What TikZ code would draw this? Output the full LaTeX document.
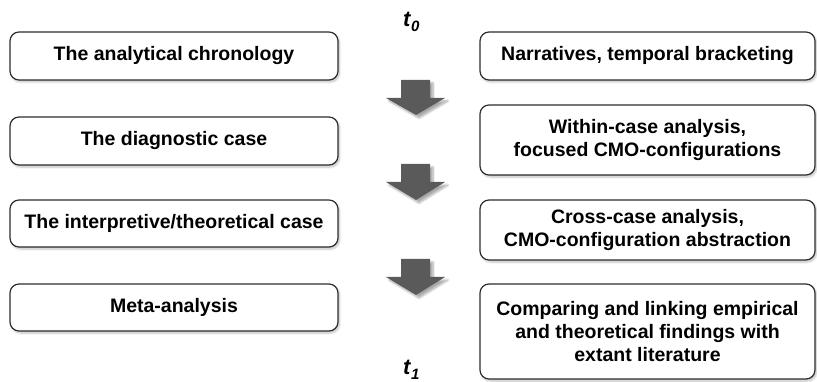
\documentclass[tikz,border=0pt]{standalone}
\usepackage{fontspec}
\setmainfont{Liberation Sans}
\usetikzlibrary{shadows.blur}
\definecolor{arrowgray}{HTML}{5A5A5A}
\definecolor{edgegray}{HTML}{2E2E2E}
\tikzset{
  stagebox/.style={draw=edgegray, line width=1.2pt, rounded corners=9pt, fill=white,
    align=center, inner sep=0pt, font=\fontsize{19.5}{23}\selectfont\bfseries,
    blur shadow={shadow xshift=1.5pt, shadow yshift=-2pt, shadow blur steps=6, shadow opacity=25}},
  stepdown/.style={fill=arrowgray, draw=none,
    blur shadow={shadow xshift=3pt, shadow yshift=-3pt, shadow blur steps=8, shadow opacity=35}},
  timelabel/.style={font=\fontsize{22}{26}\selectfont\bfseries\itshape, inner sep=0pt}
}
% time stamp: bold italic t with a lowered index
\newcommand{\timestamp}[1]{t\kern0.5pt\raisebox{-5pt}{\fontsize{15}{18}\selectfont #1}}
\newcommand{\downarrowshape}[3]{% top, head, tip (y in px)
  \path[stepdown] (401,#1) -- (430,#1) -- (430,#2) -- (445,#2) -- (416,#3) -- (386,#2) -- (401,#2) -- cycle;}
\begin{document}
\begin{tikzpicture}[x=1pt, y=-1pt]
\useasboundingbox (0,0) rectangle (817,382);

% left column: levels of analysis
\node[stagebox, minimum width=328pt, minimum height=48pt] (l1) at (174,56) {The analytical chronology};
\node[stagebox, minimum width=328pt, minimum height=48pt] (l2) at (174,141) {The diagnostic case};
\node[stagebox, minimum width=328pt, minimum height=47pt] (l3) at (174,223.5) {The interpretive/theoretical case};
\node[stagebox, minimum width=328pt, minimum height=47pt] (l4) at (174,307.5) {Meta-analysis};

% right column: corresponding techniques
\node[stagebox, minimum width=335pt, minimum height=48pt] (r1) at (647.5,56) {Narratives, temporal bracketing};
\node[stagebox, minimum width=335pt, minimum height=70pt] (r2) at (647.5,140) {Within-case analysis,\\focused CMO-configurations};
\node[stagebox, minimum width=335pt, minimum height=60pt] (r3) at (647.5,230) {Cross-case analysis,\\CMO-configuration abstraction};
\node[stagebox, minimum width=335pt, minimum height=95pt] (r4) at (647.5,331.5) {Comparing and linking empirical\\and theoretical findings with\\extant literature};

% time axis labels
\node[timelabel, anchor=base west] (t0) at (403,27) {\timestamp{0}};
\node[timelabel, anchor=base west] (t1) at (403,374) {\timestamp{1}};

% progression arrows
\downarrowshape{80}{98}{115}
\downarrowshape{164}{182}{200}
\downarrowshape{259}{277}{295}
\end{tikzpicture}
\end{document}
